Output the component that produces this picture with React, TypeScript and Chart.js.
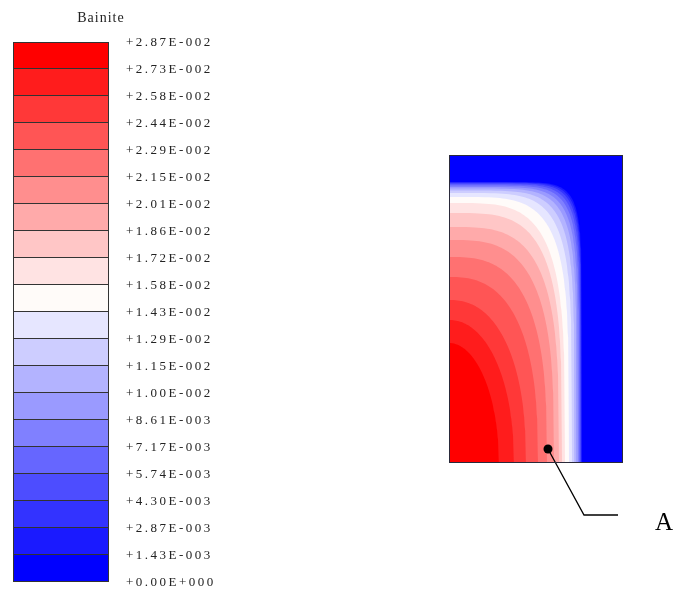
import React, { useEffect, useRef } from 'react';
import { Chart, registerables } from 'chart.js';

Chart.register(...registerables);

// ---------- data ----------
const legendTitle = 'Bainite';

// contour level values, top of the colour bar first
const levelValues = [
  2.87e-2, 2.73e-2, 2.58e-2, 2.44e-2, 2.29e-2, 2.15e-2, 2.01e-2, 1.86e-2, 1.72e-2, 1.58e-2,
  1.43e-2, 1.29e-2, 1.15e-2, 1.0e-2, 8.61e-3, 7.17e-3, 5.74e-3, 4.3e-3, 2.87e-3, 1.43e-3, 0,
];

// band colours, top band (highest values) first
const bandColors = [
  '#ff0000', '#ff1c1c', '#ff3838', '#ff5555', '#ff7171', '#ff8e8e', '#ffaaaa', '#ffc6c6', '#ffe3e3', '#fffbf9',
  '#e6e6ff', '#cdcdff', '#b3b3ff', '#9a9aff', '#8080ff', '#6666ff', '#4d4dff', '#3333ff', '#1a1aff', '#0000ff',
];

// section size (mm)
const sectionWidth = 17.4;
const sectionHeight = 30.8;

// iso-lines for levelValues[1..19]: extent along the bottom edge, extent along the left edge, squareness
const contourSemiX = [5.0, 6.5, 7.7, 8.9, 9.8, 10.5, 11.0, 11.3, 11.6, 12.0, 12.3, 12.55, 12.75, 12.9, 13.02, 13.12, 13.2, 13.26, 13.3];
const contourSemiY = [12.0, 14.3, 16.3, 18.6, 20.6, 22.3, 23.6, 25.0, 26.0, 26.6, 27.0, 27.25, 27.45, 27.6, 27.75, 27.87, 27.97, 28.04, 28.1];
const contourShape = [2.0, 2.1, 2.3, 2.6, 2.9, 3.2, 3.5, 3.8, 4.0, 4.6, 5.2, 5.8, 6.4, 7.0, 7.6, 8.2, 8.8, 9.4, 10.0];

// point A and its leader line (mm, section coordinates)
const markerName = 'A';
const leaderX = [9.9, 13.5, 16.9];
const leaderY = [1.4, -5.2, -5.2];
const markerLabelPos = { x: 21.5, y: -6.7 };

// ---------- helpers ----------
function formatLevel(v: number): string {
  if (v === 0) return '+0.00E+000';
  const e = Math.floor(Math.log10(Math.abs(v)));
  const m = v / Math.pow(10, e);
  const sign = v < 0 ? '-' : '+';
  const es = (e < 0 ? '-' : '+') + String(Math.abs(e)).padStart(3, '0');
  return sign + m.toFixed(2) + 'E' + es;
}

function isoLine(a: number, b: number, p: number) {
  const pts: { x: number; y: number }[] = [];
  const n = 80;
  for (let i = 0; i <= n; i++) {
    const t = (Math.PI / 2) * (1 - i / n);
    const c = Math.max(0, Math.cos(t));
    const s = Math.max(0, Math.sin(t));
    pts.push({ x: a * Math.pow(c, 2 / p), y: b * Math.pow(s, 2 / p) });
  }
  return pts;
}

const FONT = '"Liberation Serif", "Times New Roman", serif';

export default function App() {
  const legendRef = useRef<HTMLCanvasElement>(null);
  const contourRef = useRef<HTMLCanvasElement>(null);

  useEffect(() => {
    const legendTextPlugin = {
      id: 'legendText',
      beforeDraw(chart: any) {
        chart.ctx.letterSpacing = '2.5px';
      },
      afterDraw(chart: any) {
        const { ctx, chartArea: a } = chart;
        ctx.save();
        ctx.letterSpacing = '1px';
        ctx.fillStyle = '#222';
        ctx.font = '14px ' + FONT;
        ctx.textAlign = 'center';
        ctx.textBaseline = 'alphabetic';
        ctx.fillText(legendTitle, a.right - 8, a.top - 20);
        ctx.restore();
      },
    };

    const legend = new Chart(legendRef.current!, {
      type: 'bar',
      data: {
        labels: [legendTitle],
        datasets: bandColors.map((c, i) => ({
          data: [[i, i + 1]] as any,
          backgroundColor: c,
          borderColor: '#333',
          borderWidth: 1,
          borderSkipped: i === 0 ? false : 'start',
          grouped: false,
          barPercentage: 1,
          categoryPercentage: 1,
          inflateAmount: 0,
        })) as any,
      },
      options: {
        animation: false,
        responsive: false,
        events: [],
        layout: { padding: { left: 13, right: 0, top: 42, bottom: 11 } },
        plugins: {
          legend: { display: false },
          tooltip: { enabled: false },
          title: { display: false },
        },
        scales: {
          x: { display: false },
          y: {
            position: 'right',
            min: 0,
            max: levelValues.length - 1,
            reverse: true,
            grid: { display: false, drawTicks: false },
            border: { display: false },
            afterBuildTicks: (s: any) => {
              s.ticks = levelValues.map((_, i) => ({ value: i }));
            },
            afterFit: (s: any) => {
              s.width = 121;
              s.paddingTop = 0;
              s.paddingBottom = 0;
            },
            ticks: {
              autoSkip: false,
              padding: 17,
              labelOffset: 1,
              color: '#222',
              font: { family: FONT, size: 13 },
              callback: (v: any) => formatLevel(levelValues[Number(v)]),
            },
          },
        },
      } as any,
      plugins: [legendTextPlugin],
    });

    const framePlugin = {
      id: 'frame',
      afterDraw(chart: any) {
        const { ctx, chartArea: a, scales } = chart;
        ctx.save();
        ctx.strokeStyle = '#2a2a3a';
        ctx.lineWidth = 1;
        ctx.strokeRect(a.left + 0.5, a.top + 0.5, a.right - a.left - 1, a.bottom - a.top - 1);
        ctx.fillStyle = '#000';
        ctx.font = '25px ' + FONT;
        ctx.textAlign = 'center';
        ctx.textBaseline = 'alphabetic';
        ctx.fillText(markerName, scales.x.getPixelForValue(markerLabelPos.x), scales.y.getPixelForValue(markerLabelPos.y));
        ctx.restore();
      },
    };

    const datasets: any[] = [];
    datasets.push({
      data: leaderX.map((x, i) => ({ x, y: leaderY[i] })),
      borderColor: '#000',
      borderWidth: 1.3,
      pointRadius: leaderX.map((_, i) => (i === 0 ? 4.5 : 0)),
      pointBackgroundColor: '#000',
      pointBorderWidth: 0,
      fill: false,
      clip: false,
      order: 0,
    });
    contourSemiX.forEach((a, k) => {
      datasets.push({
        data: isoLine(a, contourSemiY[k], contourShape[k]),
        backgroundColor: bandColors[k],
        borderColor: 'rgba(0,0,0,0)',
        borderWidth: 0,
        pointRadius: 0,
        fill: 'origin',
        order: k + 1,
      });
    });
    datasets.push({
      data: [
        { x: 0, y: sectionHeight },
        { x: sectionWidth, y: sectionHeight },
      ],
      backgroundColor: bandColors[bandColors.length - 1],
      borderColor: 'rgba(0,0,0,0)',
      borderWidth: 0,
      pointRadius: 0,
      fill: 'origin',
      order: 100,
    });

    const contour = new Chart(contourRef.current!, {
      type: 'line',
      data: { datasets },
      options: {
        animation: false,
        responsive: false,
        events: [],
        layout: { padding: { left: 9, top: 15, right: 50, bottom: 130 } },
        plugins: { legend: { display: false }, tooltip: { enabled: false } },
        elements: { line: { tension: 0 } },
        scales: {
          x: { type: 'linear', display: false, min: 0, max: sectionWidth },
          y: { type: 'linear', display: false, min: 0, max: sectionHeight },
        },
      } as any,
      plugins: [framePlugin],
    });

    return () => {
      legend.destroy();
      contour.destroy();
    };
  }, []);

  return (
    <div style={{ position: 'absolute', left: 0, top: 0, width: 673, height: 593, background: '#fff', overflow: 'hidden' }}>
      <canvas ref={legendRef} width={230} height={593} style={{ position: 'absolute', left: 0, top: 0 }} />
      <canvas ref={contourRef} width={233} height={453} style={{ position: 'absolute', left: 440, top: 140 }} />
    </div>
  );
}
